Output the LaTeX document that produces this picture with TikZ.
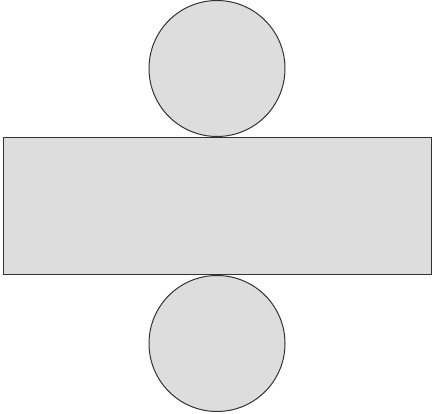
\documentclass[tikz,border=0pt]{standalone}
\usepackage{xcolor}
\usetikzlibrary{positioning}
\definecolor{netgray}{HTML}{DDDDDD}
\tikzset{part/.style={draw=black!80, fill=netgray, line width=1pt}}

\begin{document}
\begin{tikzpicture}[x=1pt, y=-1pt]
	\useasboundingbox (0,0) rectangle (434,414);
	\node (side) [part, rectangle, minimum width=428pt, minimum height=137pt, inner sep=0pt] at (217,206) {};
	\node (top) [part, circle, minimum size=136pt, inner sep=0pt, above=0pt of side] {};
	\node (bottom) [part, circle, minimum size=136pt, inner sep=0pt, below=0pt of side] {};
\end{tikzpicture}
\end{document}
